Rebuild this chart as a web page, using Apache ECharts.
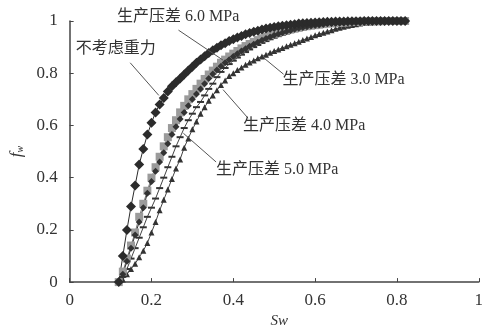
<!DOCTYPE html>
<html>
<head>
<meta charset="utf-8">
<script src="https://cdn.jsdelivr.net/npm/echarts@6/dist/echarts.min.js"></script>
<style>
  html, body { margin: 0; padding: 0; background: #fff; }
  #chart { width: 486px; height: 334px; }
</style>
</head>
<body>
<div id="chart"></div>
<script>
// Sw 网格 (0.12 ~ 0.82, 步长 0.01)
const sw = [0.12, 0.13, 0.14, 0.15, 0.16, 0.17, 0.18, 0.19, 0.20, 0.21, 0.22, 0.23, 0.24, 0.25, 0.26, 0.27, 0.28, 0.29,
  0.30, 0.31, 0.32, 0.33, 0.34, 0.35, 0.36, 0.37, 0.38, 0.39, 0.40, 0.41, 0.42, 0.43, 0.44, 0.45, 0.46, 0.47, 0.48, 0.49,
  0.50, 0.51, 0.52, 0.53, 0.54, 0.55, 0.56, 0.57, 0.58, 0.59, 0.60, 0.61, 0.62, 0.63, 0.64, 0.65, 0.66, 0.67, 0.68, 0.69,
  0.70, 0.71, 0.72, 0.73, 0.74, 0.75, 0.76, 0.77, 0.78, 0.79, 0.80, 0.81, 0.82]

// 不考虑重力
const fwNoGravity = [0, 0.10, 0.20, 0.29, 0.37, 0.45, 0.51, 0.565, 0.61, 0.65, 0.68, 0.705, 0.73, 0.75, 0.765, 0.78, 0.795, 0.81,
  0.825, 0.84, 0.853, 0.865, 0.877, 0.888, 0.898, 0.907, 0.915, 0.923, 0.93, 0.937, 0.943, 0.949, 0.954, 0.959, 0.963, 0.967, 0.971, 0.974,
  0.977, 0.98, 0.982, 0.984, 0.986, 0.988, 0.99, 0.991, 0.992, 0.993, 0.994, 0.995, 0.996, 0.997, 0.997, 0.998, 0.998, 0.998, 0.999, 0.999,
  0.999, 0.999, 1, 1, 1, 1, 1, 1, 1, 1, 1, 1, 1]
// 生产压差 6.0 MPa
const fw60 = [0, 0.04, 0.09, 0.14, 0.19, 0.25, 0.30, 0.35, 0.40, 0.44, 0.48, 0.52, 0.555, 0.59, 0.62, 0.65, 0.675, 0.70,
  0.72, 0.74, 0.76, 0.778, 0.795, 0.81, 0.825, 0.84, 0.852, 0.864, 0.875, 0.885, 0.895, 0.904, 0.912, 0.92, 0.927, 0.934, 0.94, 0.946,
  0.951, 0.956, 0.96, 0.964, 0.968, 0.971, 0.974, 0.977, 0.98, 0.982, 0.984, 0.986, 0.988, 0.99, 0.991, 0.992, 0.993, 0.994, 0.995, 0.996,
  0.997, 0.997, 0.998, 0.998, 0.999, 0.999, 0.999, 1, 1, 1, 1, 1, 1]
// 生产压差 5.0 MPa
const fw50 = [0, 0.03, 0.08, 0.13, 0.18, 0.23, 0.285, 0.34, 0.385, 0.425, 0.46, 0.495, 0.53, 0.565, 0.595, 0.625, 0.65, 0.675,
  0.70, 0.72, 0.74, 0.76, 0.78, 0.797, 0.812, 0.827, 0.84, 0.852, 0.864, 0.875, 0.885, 0.894, 0.903, 0.911, 0.919, 0.926, 0.933, 0.939,
  0.945, 0.95, 0.955, 0.96, 0.964, 0.968, 0.972, 0.975, 0.978, 0.981, 0.983, 0.985, 0.987, 0.989, 0.99, 0.991, 0.992, 0.993, 0.994, 0.995,
  0.996, 0.997, 0.997, 0.998, 0.998, 0.999, 0.999, 1, 1, 1, 1, 1, 1]
// 生产压差 4.0 MPa
const fw40 = [0, 0.02, 0.05, 0.09, 0.13, 0.17, 0.21, 0.25, 0.285, 0.32, 0.36, 0.40, 0.44, 0.48, 0.52, 0.555, 0.59, 0.62,
  0.645, 0.67, 0.69, 0.715, 0.74, 0.76, 0.785, 0.805, 0.82, 0.835, 0.848, 0.86, 0.871, 0.881, 0.891, 0.90, 0.908, 0.916, 0.923, 0.93,
  0.936, 0.942, 0.947, 0.952, 0.957, 0.961, 0.965, 0.969, 0.972, 0.975, 0.978, 0.981, 0.983, 0.985, 0.987, 0.989, 0.99, 0.991, 0.992, 0.993,
  0.994, 0.995, 0.996, 0.997, 0.997, 0.998, 0.998, 0.999, 0.999, 1, 1, 1, 1]
// 生产压差 3.0 MPa
const fw30 = [0, 0.01, 0.03, 0.05, 0.07, 0.095, 0.12, 0.15, 0.19, 0.23, 0.275, 0.315, 0.355, 0.395, 0.435, 0.47, 0.515, 0.55,
  0.585, 0.615, 0.645, 0.67, 0.695, 0.715, 0.735, 0.755, 0.772, 0.789, 0.80, 0.812, 0.822, 0.832, 0.841, 0.849, 0.857, 0.864, 0.871, 0.878,
  0.885, 0.891, 0.897, 0.903, 0.909, 0.915, 0.921, 0.927, 0.933, 0.939, 0.945, 0.95, 0.955, 0.96, 0.965, 0.97, 0.974, 0.978, 0.982, 0.985,
  0.988, 0.99, 0.992, 0.994, 0.995, 0.996, 0.997, 0.998, 0.999, 1, 1, 1, 1]

const xTicks = [0, 0.2, 0.4, 0.6, 0.8, 1]
const yTicks = [0, 0.2, 0.4, 0.6, 0.8, 1]

// 标注: 文字位置与引线端点 (数据坐标)
const notes = [
  { text: '生产压差 6.0 MPa', at: [0.116, 1.015], from: [0.266, 0.965], to: [0.375, 0.85] },
  { text: '不考虑重力', at: [0.015, 0.894], from: [0.148, 0.84], to: [0.218, 0.715] },
  { text: '生产压差 3.0 MPa', at: [0.52, 0.774], from: [0.523, 0.796], to: [0.475, 0.858] },
  { text: '生产压差 4.0 MPa', at: [0.424, 0.599], from: [0.436, 0.628], to: [0.375, 0.737] },
  { text: '生产压差 5.0 MPa', at: [0.358, 0.431], from: [0.358, 0.46], to: [0.278, 0.57] },
]

const zip = (ys) => sw.map((x, i) => [x, ys[i]])
const serif = "'Liberation Serif', 'DejaVu Serif', serif"
const cjk = "'Liberation Serif', 'Noto Sans CJK SC', serif"

const chart = echarts.init(document.getElementById('chart'))

const line = (name, ys, symbol, size, color, lineColor) => ({
  name,
  type: 'line',
  data: zip(ys),
  symbol,
  symbolSize: size,
  showAllSymbol: true,
  itemStyle: { color, borderWidth: 0 },
  lineStyle: { color: lineColor, width: 1 },
  emphasis: { disabled: true },
  animation: false,
})

chart.setOption({
  animation: false,
  grid: { left: 67, right: 6, top: 21, bottom: 39 },
  xAxis: {
    type: 'value',
    min: 0,
    max: 1,
    interval: 0.2,
    name: 'Sw',
    nameLocation: 'middle',
    nameGap: 24,
    nameTextStyle: { fontFamily: serif, fontStyle: 'italic', fontSize: 15, color: '#333', padding: [0, 0, 0, 10] },
    axisLine: { lineStyle: { color: '#444', width: 1.5 } },
    axisTick: { inside: true, length: 4, lineStyle: { color: '#444' } },
    axisLabel: {
      fontFamily: serif, fontSize: 17, color: '#333', margin: 10,
      formatter: (v) => (xTicks.includes(v) ? String(v) : ''),
    },
    splitLine: { show: false },
  },
  yAxis: {
    type: 'value',
    min: 0,
    max: 1,
    interval: 0.2,
    name: '{f|f}{w|w}',
    nameLocation: 'middle',
    nameGap: 38,
    nameRotate: 90,
    nameTextStyle: {
      rich: {
        f: { fontFamily: serif, fontStyle: 'italic', fontSize: 17, color: '#333' },
        w: { fontFamily: serif, fontStyle: 'italic', fontSize: 10, color: '#333', verticalAlign: 'bottom', padding: [8, 0, 0, 0] },
      },
    },
    axisLine: { show: true, lineStyle: { color: '#444', width: 1.5 } },
    axisTick: { show: true, inside: true, length: 4, lineStyle: { color: '#444' } },
    axisLabel: {
      fontFamily: serif, fontSize: 17, color: '#333', margin: 12,
      formatter: (v) => (yTicks.includes(v) ? String(v) : ''),
    },
    splitLine: { show: false },
  },
  series: [
    line('生产压差 3.0 MPa', fw30, 'triangle', 6, '#333', '#444'),
    line('生产压差 4.0 MPa', fw40, 'rect', [7, 2], '#333', '#444'),
    line('生产压差 6.0 MPa', fw60, 'rect', 8, '#9b9b9b', '#777'),
    line('生产压差 5.0 MPa', fw50, 'diamond', 7, '#333', '#333'),
    line('不考虑重力', fwNoGravity, 'diamond', 10, '#2b2b2b', '#2b2b2b'),
  ],
})

// 标注文字和引线
const px = (p) => chart.convertToPixel({ gridIndex: 0 }, p)
const graphics = []
notes.forEach((n) => {
  const a = px(n.from)
  const b = px(n.to)
  graphics.push({
    type: 'line',
    shape: { x1: a[0], y1: a[1], x2: b[0], y2: b[1] },
    style: { stroke: '#555', lineWidth: 1 },
    z: 10,
  })
  const t = px(n.at)
  graphics.push({
    type: 'text',
    x: t[0],
    y: t[1],
    style: { text: n.text, font: `16px ${cjk}`, fill: '#333', textVerticalAlign: 'middle' },
    z: 11,
  })
})
chart.setOption({ graphic: graphics })
</script>
</body>
</html>
